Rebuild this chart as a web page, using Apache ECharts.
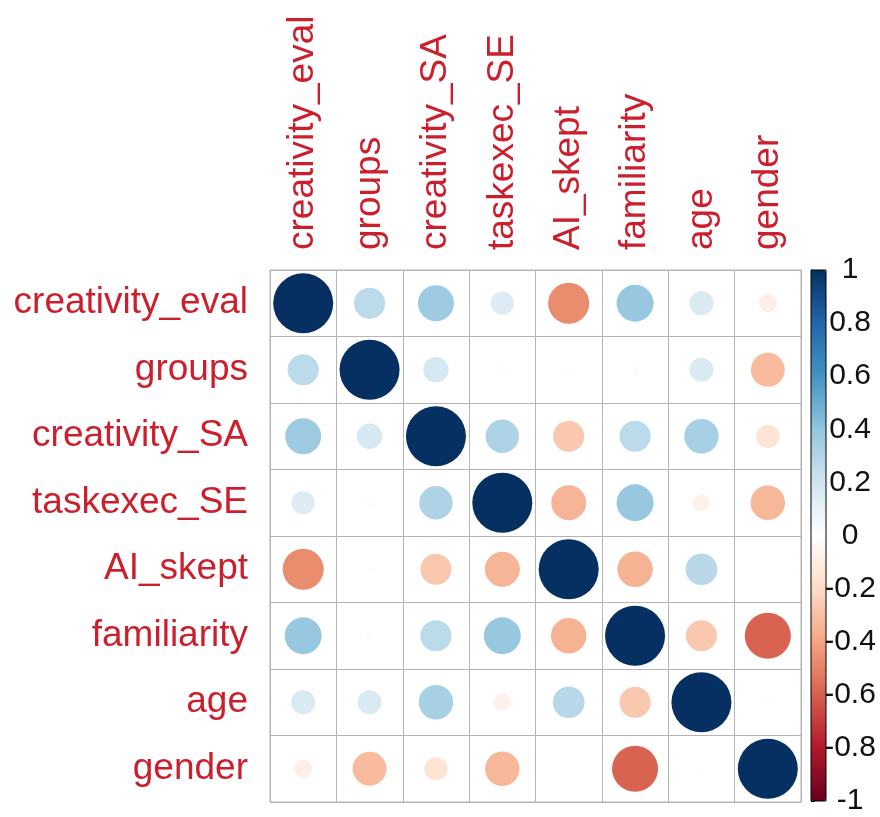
<!DOCTYPE html>
<html>
<head>
<meta charset="utf-8">
<script src="https://cdn.jsdelivr.net/npm/echarts@6/dist/echarts.min.js"></script>
<style>
  html, body { margin: 0; padding: 0; background: #fff; }
  #chart { width: 880px; height: 817px; }
</style>
</head>
<body>
<div id="chart"></div>
<script>
// Variable names (same order on both axes)
const variables = ['creativity_eval', 'groups', 'creativity_SA', 'taskexec_SE',
                   'AI_skept', 'familiarity', 'age', 'gender'];

// Correlation matrix, one row per variable
const rowCreativityEval = [1, 0.27, 0.36, 0.15, -0.47, 0.38, 0.16, -0.09];
const rowGroups         = [0.27, 1, 0.18, 0.02, -0.01, 0.02, 0.16, -0.32];
const rowCreativitySA   = [0.36, 0.18, 1, 0.31, -0.27, 0.27, 0.33, -0.15];
const rowTaskexecSE     = [0.15, 0.02, 0.31, 1, -0.34, 0.38, -0.08, -0.33];
const rowAISkept        = [-0.47, -0.01, -0.27, -0.34, 1, -0.35, 0.28, 0.01];
const rowFamiliarity    = [0.38, 0.02, 0.27, 0.38, -0.35, 1, -0.27, -0.59];
const rowAge            = [0.16, 0.16, 0.33, -0.08, 0.28, -0.27, 1, -0.01];
const rowGender         = [-0.09, -0.32, -0.15, -0.33, 0.01, -0.59, -0.01, 1];

// Colour legend tick values
const legendTicks = [-1, -0.8, -0.6, -0.4, -0.2, 0, 0.2, 0.4, 0.6, 0.8, 1];

// Diverging red-blue palette
const palette = ['#67001F', '#B2182B', '#D6604D', '#F4A582', '#FDDBC7', '#FFFFFF',
                 '#D1E5F0', '#92C5DE', '#4393C3', '#2166AC', '#053061'];

const matrix = [rowCreativityEval, rowGroups, rowCreativitySA, rowTaskexecSE,
                rowAISkept, rowFamiliarity, rowAge, rowGender];

const cells = [];
matrix.forEach((row, yi) => row.forEach((v, xi) => cells.push([xi, yi, v])));

const labelColor = '#cc1f2d';
const fontFamily = '"Liberation Sans", Arial, sans-serif';

const chart = echarts.init(document.getElementById('chart'), null, { renderer: 'canvas' });

chart.setOption({
  animation: false,
  backgroundColor: '#ffffff',
  grid: [
    { left: 270, top: 270, width: 531, height: 532, show: true,
      borderColor: '#b4b4b4', borderWidth: 1, backgroundColor: '#fff' },
    { left: 811, top: 270, width: 15, height: 531, show: true,
      borderColor: '#000', borderWidth: 1, backgroundColor: 'transparent', z: 5 }
  ],
  xAxis: [
    { type: 'category', data: variables, position: 'top', gridIndex: 0,
      axisLine: { show: false }, axisTick: { show: false },
      splitLine: { show: true, interval: 0, lineStyle: { color: '#b4b4b4', width: 1 } },
      axisLabel: { rotate: -90, interval: 0, margin: 20, color: labelColor,
                   fontSize: 37, fontFamily: fontFamily } },
    { type: 'value', gridIndex: 1, show: false, min: 0, max: 1 }
  ],
  yAxis: [
    { type: 'category', data: variables, inverse: true, gridIndex: 0,
      axisLine: { show: false }, axisTick: { show: false },
      splitLine: { show: true, interval: 0, lineStyle: { color: '#b4b4b4', width: 1 } },
      axisLabel: { interval: 0, margin: 22, color: labelColor,
                   fontSize: 37, fontFamily: fontFamily } },
    { type: 'value', gridIndex: 1, position: 'right',
      min: legendTicks[0], max: legendTicks[legendTicks.length - 1], interval: 0.2,
      axisLine: { show: true, lineStyle: { color: '#000', width: 1 } },
      axisTick: { show: true, length: 4, lineStyle: { color: '#000' } },
      splitLine: { show: false },
      axisLabel: { margin: 24, align: 'center', color: '#111', fontSize: 30,
                   fontFamily: fontFamily,
                   formatter: v => String(+v.toFixed(1)) } }
  ],
  visualMap: {
    type: 'continuous',
    min: -1, max: 1, dimension: 2, seriesIndex: 0,
    calculable: false, realtime: false, showLabel: false, text: null,
    orient: 'vertical', left: 811, top: 270, padding: 0,
    itemWidth: 15, itemHeight: 531,
    inRange: { color: palette }
  },
  series: [
    { type: 'scatter', xAxisIndex: 0, yAxisIndex: 0, data: cells,
      symbol: 'circle',
      symbolSize: d => 60 * Math.sqrt(Math.abs(d[2])),
      itemStyle: { opacity: 1 },
      emphasis: { disabled: true } }
  ]
});
</script>
</body>
</html>
